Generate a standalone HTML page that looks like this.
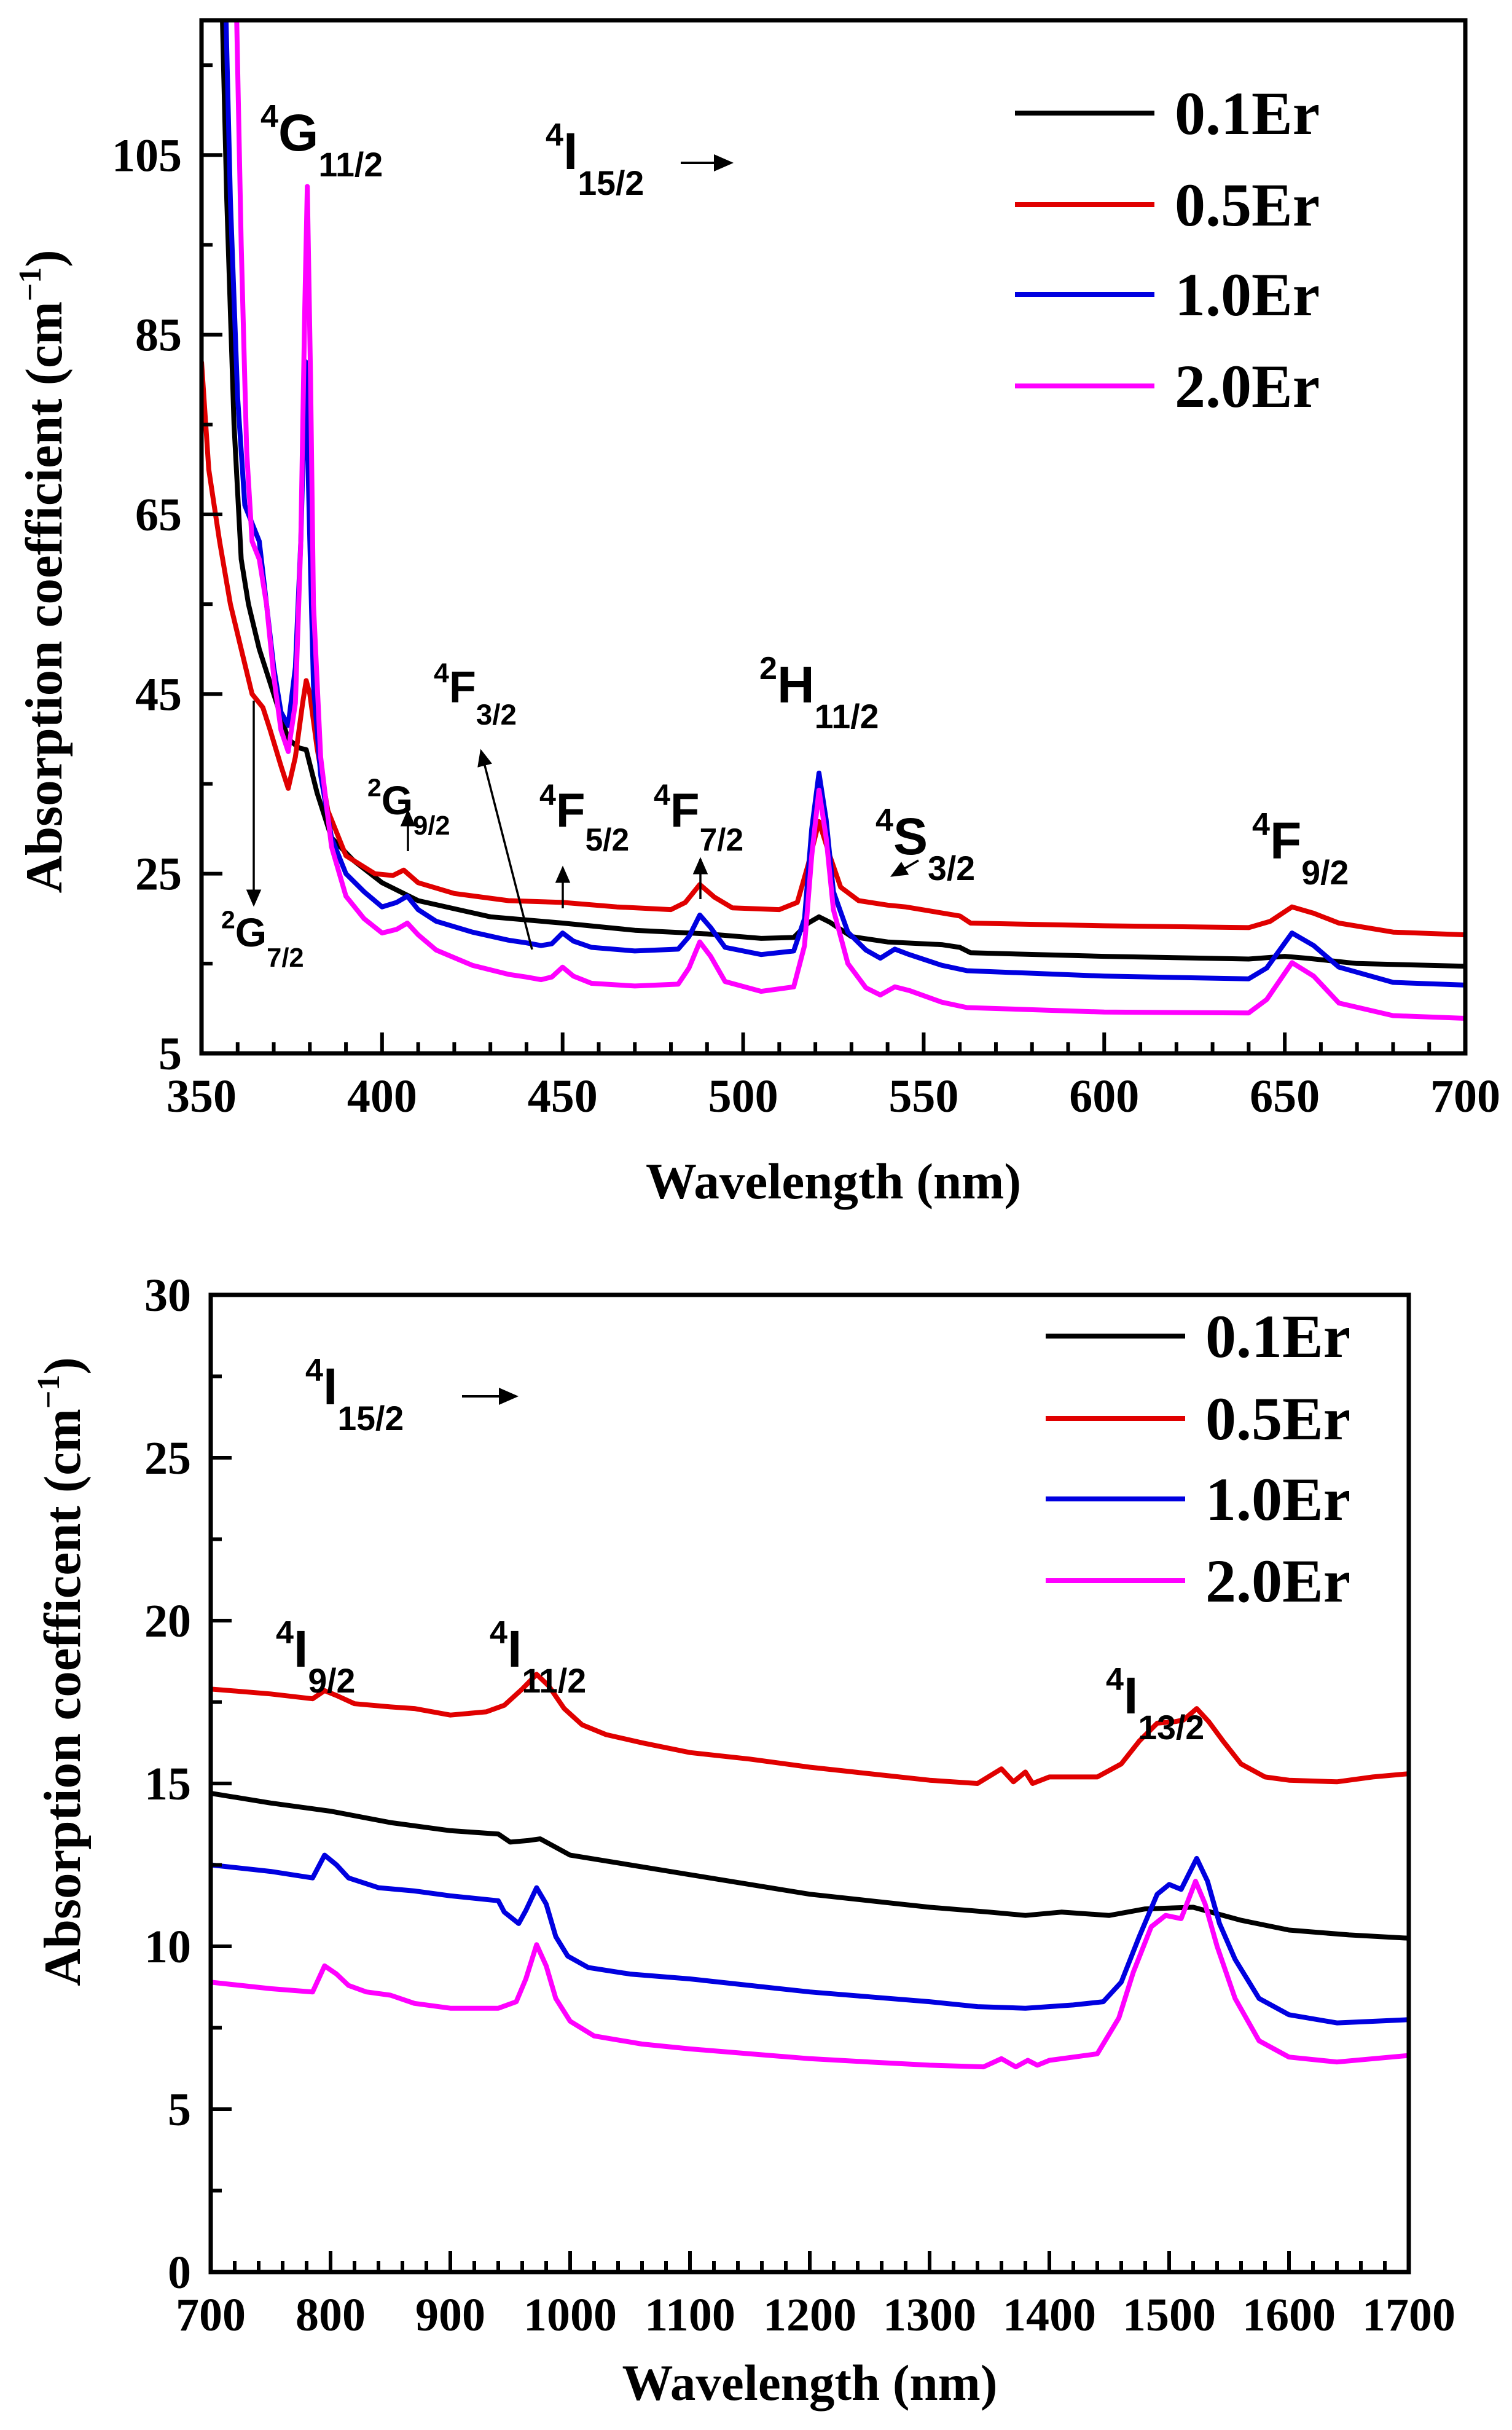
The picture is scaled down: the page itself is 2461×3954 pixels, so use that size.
<!DOCTYPE html>
<html><head><meta charset="utf-8">
<style>
html,body{margin:0;padding:0;background:#fff;}
svg{display:block;}
.ser{font-family:"Liberation Serif",serif;font-weight:bold;}
.san{font-family:"Liberation Sans",sans-serif;font-weight:bold;}
</style></head>
<body>
<svg id="s" width="2461" height="3954" viewBox="0 0 2461 3954" xmlns="http://www.w3.org/2000/svg">
<rect width="2461" height="3954" fill="#fff"/>
<g id="g"></g>
<defs>
<marker id="ah" markerWidth="8" markerHeight="8" refX="7" refY="4" orient="auto" markerUnits="strokeWidth"><path d="M0,0.5 L8,4 L0,7.5 z" fill="#000"/></marker>
</defs>
</svg>
<script>
var NS="http://www.w3.org/2000/svg",G=document.getElementById('g');
function el(t,a,txt){var e=document.createElementNS(NS,t);for(var k in a)e.setAttribute(k,a[k]);if(txt!==undefined)e.textContent=txt;G.appendChild(e);return e;}
function chart(o){
 var X=function(v){return o.L+(v-o.x0)/(o.x1-o.x0)*(o.R-o.L);},Y=function(v){return o.B-(v-o.y0)/(o.y1-o.y0)*(o.B-o.T);};
 var cp="c"+o.id;
 var c=document.createElementNS(NS,'clipPath');c.setAttribute('id',cp);var r=document.createElementNS(NS,'rect');
 r.setAttribute('x',o.L);r.setAttribute('y',o.T);r.setAttribute('width',o.R-o.L);r.setAttribute('height',o.B-o.T);c.appendChild(r);G.appendChild(c);
 o.series.forEach(function(s){var d="";s.p.forEach(function(p,i){d+=(i?"L":"M")+X(p[0]).toFixed(1)+","+Y(p[1]).toFixed(1);});
  el('path',{d:d,fill:'none',stroke:s.c,'stroke-width':8,'stroke-linejoin':'round','clip-path':'url(#'+cp+')'});});
 for(var v=o.x0;v<=o.x1+1e-6;v+=o.xm){var maj=Math.abs((v-o.x0)/o.xM-Math.round((v-o.x0)/o.xM))<1e-6;var len=maj?34:18;
  el('line',{x1:X(v),x2:X(v),y1:o.B,y2:o.B-len,stroke:'#000','stroke-width':6});
  if(maj)el('text',{x:X(v),y:o.B+95,'text-anchor':'middle','class':'ser','font-size':76},String(Math.round(v)));}
 for(var v=o.y0;v<=o.y1+1e-6;v+=o.ym){var maj=Math.abs((v-o.yl)/o.yM-Math.round((v-o.yl)/o.yM))<1e-6;var len=maj?34:18;
  el('line',{x1:o.L,x2:o.L+len,y1:Y(v),y2:Y(v),stroke:'#000','stroke-width':6});
  if(maj)el('text',{x:o.L-32,y:Y(v)+26,'text-anchor':'end','class':'ser','font-size':76},String(Math.round(v)));}
 el('rect',{x:o.L,y:o.T,width:o.R-o.L,height:o.B-o.T,fill:'none',stroke:'#000','stroke-width':7});
 var names=["0.1Er","0.5Er","1.0Er","2.0Er"];
 o.series.forEach(function(s,i){var y=o.leg.y[i];el('line',{x1:o.leg.x1,x2:o.leg.x2,y1:y,y2:y,stroke:s.c,'stroke-width':8});
  el('text',{x:o.leg.tx,y:y+34,'class':'ser','font-size':o.leg.fs},names[i]);});
 el('text',{x:(o.L+o.R)/2,y:o.xt,'text-anchor':'middle','class':'ser','font-size':83},"Wavelength (nm)");
 var t=el('text',{x:0,y:0,'text-anchor':'middle','class':'ser','font-size':85,transform:'translate('+o.ytx+','+o.yty+') rotate(-90)'});
 t.innerHTML=o.ytitle;
}
function lab(x,y,pre,main,sub,fs){var t=el('text',{x:x,y:y,'class':'san','font-size':fs});
 t.innerHTML='<tspan font-size="'+(fs*0.62)+'" dy="'+(-fs*0.45)+'">'+pre+'</tspan><tspan dy="'+(fs*0.45)+'">'+main+'</tspan><tspan font-size="'+(fs*0.66)+'" dy="'+(fs*0.5)+'">'+sub+'</tspan>';return t;}
function arr(x1,y1,x2,y2,w){el('line',{x1:x1,y1:y1,x2:x2,y2:y2,stroke:'#000','stroke-width':w||3.5,'marker-end':'url(#ah)'});}

chart({id:1,L:328,R:2385,T:33,B:1714,x0:350,x1:700,y0:5,y1:120,xm:10,xM:50,ym:10,yM:20,yl:5,
 xt:1950,ytx:100,yty:930,ytitle:'Absorption coefficient  (cm<tspan font-size="52" dy="-34">&#8722;1</tspan><tspan dy="34">)</tspan>',
 leg:{x1:1652,x2:1879,tx:1912,fs:100,y:[184,333,479,628]},
 series:[
 {c:'#000',p:[[355.5,125],[357,100],[359,75],[361,60],[363,55],[366,50],[370,45],[374,40],[377,39],[379,38.8],[382,34],[386,29],[392,26.5],[400,24],[410,22],[430,20.2],[450,19.5],[470,18.7],[490,18.3],[505,17.8],[514,17.9],[518,19.5],[521,20.2],[524,19.6],[530,18],[540,17.4],[555,17.1],[560,16.8],[563,16.2],[600,15.8],[640,15.5],[650,15.8],[656,15.6],[670,15],[700,14.7]]},
 {c:'#e00000',p:[[350,82],[352,70],[355,62],[358,55],[361,50],[364,45],[367,43.5],[369,41],[372,37],[374,34.5],[376,38],[378,44],[379,46.5],[380,45],[382,39],[385,32],[390,27],[398,25],[403,24.8],[406,25.4],[410,24],[420,22.8],[435,22],[450,21.8],[465,21.3],[480,21],[484,21.8],[488,23.8],[492,22.4],[497,21.2],[510,21],[515,21.8],[518,26],[521,30.8],[524,27],[527,23.5],[532,22],[540,21.5],[545,21.3],[560,20.3],[563,19.5],[600,19.2],[640,19],[646,19.7],[652,21.3],[658,20.6],[665,19.5],[680,18.5],[700,18.2]]},
 {c:'#0000e0',p:[[356.5,125],[358,100],[360,78],[362,66],[364,64],[366,62],[368,55],[370,48],[372,43],[374,41.5],[376,48],[377.5,62],[378.8,82],[380,62],[381,46],[383,36],[386,29],[390,25],[395,23],[400,21.3],[404,21.8],[407,22.5],[410,21],[415,19.7],[425,18.5],[435,17.6],[440,17.3],[444,17],[447,17.2],[450,18.4],[453,17.5],[458,16.8],[470,16.4],[482,16.6],[485,18],[488,20.4],[491,19],[495,16.8],[505,16],[514,16.4],[517,20],[519,30],[521,36.2],[523,31],[525,23],[529,18.5],[534,16.5],[538,15.6],[542,16.6],[546,16],[555,14.8],[562,14.2],[600,13.6],[640,13.3],[645,14.5],[652,18.4],[658,17],[665,14.6],[680,12.9],[700,12.6]]},
 {c:'#ff00ff',p:[[359.5,125],[361,95],[362.5,72],[364,62],[366,60],[368,55],[370,47],[372,41],[374,38.6],[376,44],[377.5,62],[378.6,88],[379.3,101.5],[380.2,80],[381,55],[383,38],[386,28],[390,22.5],[395,20],[400,18.4],[404,18.8],[407,19.5],[410,18.2],[415,16.5],[425,14.8],[435,13.8],[440,13.5],[444,13.2],[447,13.5],[450,14.6],[453,13.6],[458,12.8],[470,12.5],[482,12.7],[485,14.5],[488,17.4],[491,15.8],[495,13],[505,11.9],[514,12.4],[517,17],[519,27],[521,34.3],[523,29],[525,21],[529,15],[534,12.3],[538,11.5],[542,12.4],[546,12],[555,10.7],[562,10.1],[600,9.6],[640,9.5],[645,11],[652,15.1],[658,13.6],[665,10.6],[680,9.2],[700,8.9]]}
 ]});

lab(424,245,'4','G','11/2',84);
lab(888,275,'4','I','15/2',84);
arr(1108,265,1190,265,4);
lab(598,1325,'2','G','9/2',66);
lab(706,1143,'4','F','3/2',72);
lab(878,1345,'4','F','5/2',78);
lab(1064,1345,'4','F','7/2',78);
lab(1236,1143,'2','H','11/2',84);
lab(1425,1390,'4','S','3/2',84);
lab(2038,1397,'4','F','9/2',84);
lab(360,1540,'2','G','7/2',66);
arr(413,1140,413,1472);
arr(664,1385,664,1320);
arr(866,1545,783,1222);
arr(916,1478,916,1412);
arr(1140,1463,1140,1398);
arr(1495,1400,1452,1425);

chart({id:2,L:343,R:2293,T:2107,B:3697,x0:700,x1:1700,y0:0,y1:30,xm:20,xM:100,ym:2.5,yM:5,yl:0,
 xt:3905,ytx:130,yty:2720,ytitle:'Absorption coefficent (cm<tspan font-size="52" dy="-34">&#8722;1</tspan><tspan dy="34">)</tspan>',
 leg:{x1:1702,x2:1929,tx:1962,fs:100,y:[2174,2308,2439,2572]},
 series:[
 {c:'#000',p:[[700,14.7],[750,14.4],[800,14.15],[850,13.8],[900,13.55],[940,13.45],[950,13.2],[965,13.25],[975,13.3],[990,13.0],[1000,12.8],[1050,12.5],[1100,12.2],[1150,11.9],[1200,11.6],[1250,11.4],[1300,11.2],[1350,11.05],[1380,10.95],[1410,11.05],[1450,10.95],[1480,11.15],[1520,11.2],[1540,11.0],[1560,10.8],[1600,10.5],[1650,10.35],[1700,10.25]]},
 {c:'#e00000',p:[[700,17.9],[750,17.75],[785,17.6],[795,17.85],[805,17.7],[820,17.45],[850,17.35],[870,17.3],[900,17.1],[930,17.2],[945,17.4],[960,17.9],[972,18.35],[982,18.0],[995,17.3],[1010,16.8],[1030,16.5],[1060,16.25],[1100,15.95],[1150,15.75],[1200,15.5],[1250,15.3],[1300,15.1],[1340,15.0],[1360,15.45],[1370,15.05],[1380,15.35],[1386,15.0],[1400,15.2],[1440,15.2],[1460,15.6],[1475,16.3],[1490,16.85],[1505,16.9],[1512,16.95],[1523,17.3],[1533,16.9],[1545,16.3],[1560,15.6],[1580,15.2],[1600,15.1],[1640,15.05],[1670,15.2],[1700,15.3]]},
 {c:'#0000e0',p:[[700,12.5],[750,12.3],[785,12.1],[795,12.8],[805,12.5],[815,12.1],[840,11.8],[870,11.7],[900,11.55],[940,11.4],[945,11.05],[957,10.7],[963,11.1],[972,11.8],[980,11.3],[988,10.3],[998,9.7],[1015,9.35],[1050,9.15],[1100,9.0],[1150,8.8],[1200,8.6],[1250,8.45],[1300,8.3],[1340,8.15],[1380,8.1],[1420,8.2],[1445,8.3],[1460,8.9],[1475,10.3],[1490,11.6],[1500,11.9],[1510,11.75],[1523,12.7],[1532,12.0],[1542,10.7],[1555,9.6],[1575,8.4],[1600,7.9],[1640,7.65],[1700,7.75]]},
 {c:'#ff00ff',p:[[700,8.9],[750,8.7],[785,8.6],[795,9.4],[805,9.15],[815,8.8],[830,8.6],[850,8.5],[870,8.25],[900,8.1],[940,8.1],[955,8.3],[963,9.0],[972,10.05],[980,9.4],[988,8.4],[1000,7.7],[1020,7.25],[1060,7.0],[1100,6.85],[1150,6.7],[1200,6.55],[1250,6.45],[1300,6.35],[1345,6.3],[1360,6.55],[1372,6.3],[1382,6.5],[1390,6.35],[1400,6.5],[1440,6.7],[1458,7.8],[1470,9.2],[1485,10.6],[1497,10.95],[1510,10.85],[1522,12.0],[1530,11.3],[1540,10.0],[1555,8.4],[1575,7.1],[1600,6.6],[1640,6.45],[1700,6.65]]}
 ]});

lab(497,2285,'4','I','15/2',84);
arr(752,2272,840,2272,4);
lab(449,2712,'4','I','9/2',84);
lab(797,2712,'4','I','11/2',84);
lab(1800,2788,'4','I','13/2',84);
</script>
</body></html>
